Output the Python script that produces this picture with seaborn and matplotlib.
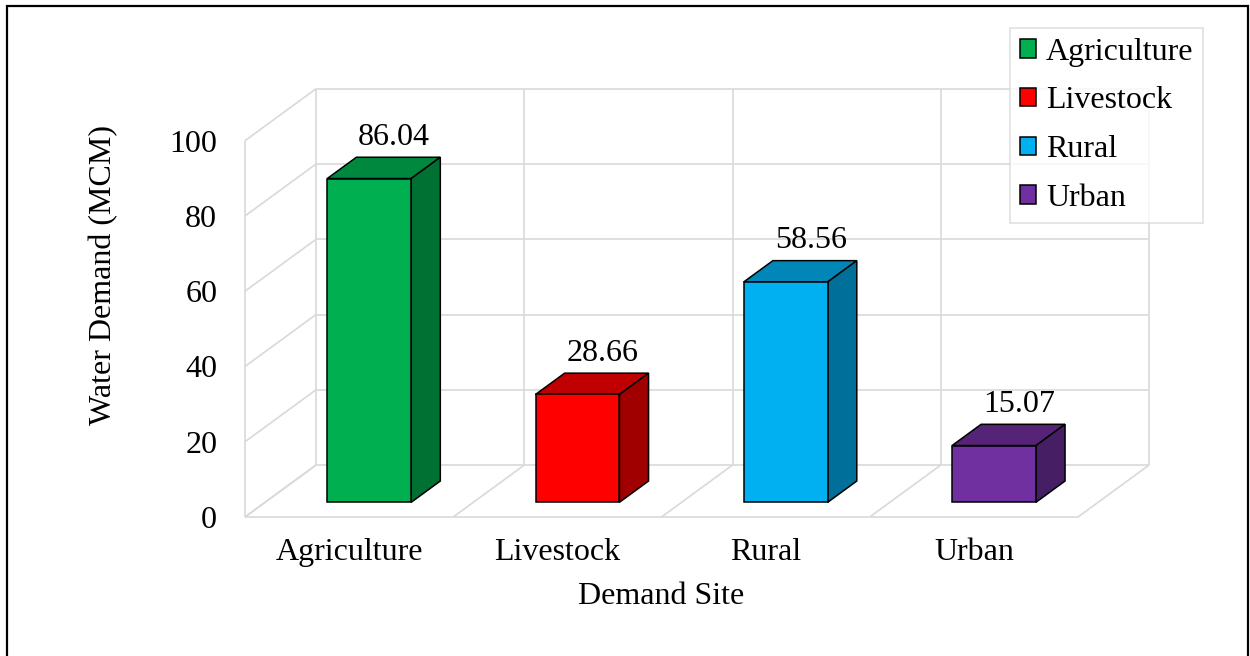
import matplotlib
matplotlib.use("Agg")
import matplotlib.pyplot as plt
import matplotlib.transforms as mtransforms
from matplotlib.patches import Polygon, Patch, Rectangle
from matplotlib.font_manager import FontProperties
import pandas as pd
import seaborn as sns

# Water demand per demand site (MCM)
sites = ["Agriculture", "Livestock", "Rural", "Urban"]
demand = [86.04, 28.66, 58.56, 15.07]
y_ticks = [0, 20, 40, 60, 80, 100]

front_colors = ["#00B050", "#FF0000", "#00B0F0", "#7030A0"]
top_colors = ["#00893E", "#C00000", "#0087B8", "#552477"]
side_colors = ["#007033", "#A00000", "#006F99", "#461E63"]

sns.set_theme(style="white")
plt.rcParams["font.family"] = ["Liberation Serif", "DejaVu Serif"]
plt.rcParams["text.color"] = "black"
FS = 23

df = pd.DataFrame({"site": sites, "demand": demand})

fig = plt.figure(figsize=(12.5, 6.56), dpi=100)
ax = fig.add_axes([245 / 1250, 139 / 656, 833 / 1250, 376.3 / 656])
ax.set_xlim(-0.5, 3.5)
ax.set_ylim(0, 100)

# oblique depth: full depth shift in data units
DX, DY = 0.341, 13.8
GRID = "#D9D9D9"
glw = 1.2
n = len(sites)


def line(xs, ys, **kw):
    ax.plot(xs, ys, color=GRID, lw=glw, zorder=0, clip_on=False,
            solid_capstyle="butt", **kw)


# back wall
for v in y_ticks:
    line([-0.5 + DX, n - 0.5 + DX], [v + DY, v + DY])
for k in range(n + 1):
    line([-0.5 + k + DX] * 2, [DY, 100 + DY])
# left side wall
line([-0.5, -0.5], [0, 100])
for v in y_ticks:
    line([-0.5, -0.5 + DX], [v, v + DY])
# floor
line([-0.5, n - 0.5], [0, 0])
for k in range(n + 1):
    line([-0.5 + k, -0.5 + k + DX], [0, DY])

# bars: front faces via seaborn, shifted into depth
d0, dd = 0.283, 0.41
d1 = d0 + dd
bw = 0.403
sns.barplot(data=df, x="site", y="demand", hue="site", palette=front_colors,
            saturation=1, width=bw, dodge=False, legend=False, ax=ax,
            edgecolor="black", linewidth=1.1, zorder=3)
shift = mtransforms.Affine2D().translate(d0 * DX, d0 * DY) + ax.transData
for p in ax.patches:
    p.set_transform(shift)
    p.set_clip_on(False)

for i, v in enumerate(demand):
    x0, x1 = i - bw / 2, i + bw / 2
    top = [(x0 + d0 * DX, v + d0 * DY), (x1 + d0 * DX, v + d0 * DY),
           (x1 + d1 * DX, v + d1 * DY), (x0 + d1 * DX, v + d1 * DY)]
    side = [(x1 + d0 * DX, d0 * DY), (x1 + d1 * DX, d1 * DY),
            (x1 + d1 * DX, v + d1 * DY), (x1 + d0 * DX, v + d0 * DY)]
    ax.add_patch(Polygon(top, closed=True, fc=top_colors[i], ec="black",
                         lw=1.1, zorder=2, clip_on=False, joinstyle="miter"))
    ax.add_patch(Polygon(side, closed=True, fc=side_colors[i], ec="black",
                         lw=1.1, zorder=2, clip_on=False, joinstyle="miter"))
    ax.annotate(f"{v:.2f}", xy=(i + d1 * DX - 0.02, v + d1 * DY),
                xytext=(0, 9), textcoords="offset points",
                ha="center", va="baseline", fontsize=FS, color="black",
                annotation_clip=False)

for s in ax.spines.values():
    s.set_visible(False)
ax.set_yticks(y_ticks)
ax.set_yticklabels([str(t) for t in y_ticks])
ax.set_xticks(range(n))
ax.set_xticklabels(sites)
ax.tick_params(axis="y", length=0, pad=20, labelsize=FS, labelcolor="black")
ax.tick_params(axis="x", length=0, pad=15, labelsize=FS, labelcolor="black")
ax.grid(False)
ax.set_facecolor("none")

ax.set_xlabel("Demand Site", fontsize=FS, color="black")
ax.xaxis.set_label_coords(0.5, -0.172)
ax.set_ylabel("Water Demand (MCM)", fontsize=FS, color="black")
ax.yaxis.set_label_coords(-0.152, 0.643)

handles = [Patch(facecolor=c, edgecolor="black", linewidth=1.1, label=s)
           for s, c in zip(sites, front_colors)]
leg = fig.legend(handles=handles, loc="upper right",
                 bbox_to_anchor=(1203 / 1250, 1 - 28 / 656),
                 prop=FontProperties(family=["Liberation Serif"], size=FS),
                 labelcolor="black", frameon=True, fancybox=False,
                 handlelength=0.52, handleheight=0.52, handletextpad=0.3,
                 labelspacing=0.62, borderpad=0.3, borderaxespad=0)
leg.get_frame().set_edgecolor(GRID)
leg.get_frame().set_linewidth(1.2)

fig.add_artist(Rectangle((6.5 / 1250, -0.05), (1248 - 6.5) / 1250,
                         1.05 - 6.3 / 656, transform=fig.transFigure,
                         fill=False, ec="black", lw=1.6))

fig.savefig("out.png", dpi=100, facecolor="white")
